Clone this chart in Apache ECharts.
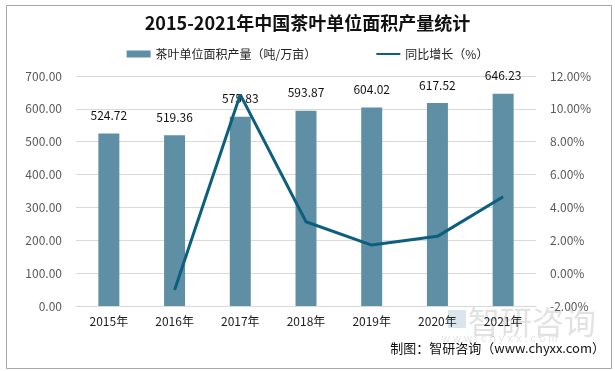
<!DOCTYPE html>
<html><head><meta charset="utf-8">
<script src="https://cdn.jsdelivr.net/npm/echarts@6/dist/echarts.min.js"></script>
<style>html,body{margin:0;padding:0;background:#fff}#c{width:615px;height:371px;}</style>
</head><body><div id="c"></div>
<script>
var categories = ['2015年','2016年','2017年','2018年','2019年','2020年','2021年'];
var yieldValues = [524.72, 519.36, 575.83, 593.87, 604.02, 617.52, 646.23];
var growthValues = [null, -1.02, 10.87, 3.13, 1.71, 2.24, 4.65];
var title = '2015-2021年中国茶叶单位面积产量统计';
var seriesNames = ['茶叶单位面积产量（吨/万亩）', '同比增长（%）'];
var sourceText = '制图：智研咨询（www.chyxx.com）';

var chart = echarts.init(document.getElementById('c'), null, {renderer:'canvas'});
var font = '"Microsoft YaHei","Noto Sans CJK SC",sans-serif';
chart.setOption({
  animation:false,
  textStyle:{fontFamily:font},
  title:{text:title,left:'center',top:9,textStyle:{fontSize:18,fontWeight:'bold',color:'#111',fontFamily:font}},
  legend:{top:43,left:'center',itemGap:60,itemWidth:24,itemHeight:7,textStyle:{fontSize:12,color:'#222'},
    data:[{name:seriesNames[0],icon:'rect'},{name:seriesNames[1],icon:'path://M0,2.5 L24,2.5 L24,4.5 L0,4.5 Z'}]},
  grid:{left:76,right:79,top:76,bottom:65},
  xAxis:{type:'category',data:categories,axisTick:{show:false},
    axisLine:{lineStyle:{color:'#d9d9d9'}},
    axisLabel:{color:'#222',fontSize:12,margin:9}},
  yAxis:[
    {type:'value',min:0,max:700,interval:100,
      axisLabel:{formatter:function(v){return v.toFixed(2);},color:'#595959',fontSize:12,margin:14},
      splitLine:{lineStyle:{color:'#d9d9d9'}},axisLine:{show:false},axisTick:{show:false}},
    {type:'value',min:-2,max:12,interval:2,
      axisLabel:{formatter:function(v){return v.toFixed(2)+'%';},color:'#595959',fontSize:12,margin:14},
      splitLine:{show:false},axisLine:{show:false},axisTick:{show:false}}
  ],
  series:[
    {name:seriesNames[0],type:'bar',data:yieldValues,barWidth:21,itemStyle:{color:'#5f8fa5'},
      label:{show:true,position:'top',distance:12,color:'#111',fontSize:12,formatter:function(p){return p.value.toFixed(2);}}},
    {name:seriesNames[1],type:'line',yAxisIndex:1,data:growthValues,symbol:'none',
      lineStyle:{color:'#0d5f7e',width:3},itemStyle:{color:'#0d5f7e'}}
  ],
  graphic:[
    {type:'rect',left:4,top:3,shape:{width:605,height:363},style:{fill:'none',stroke:'#a6a6a6',lineWidth:1},z:-1},
    {type:'text',right:10,top:342,style:{text:sourceText,fill:'#111',fontSize:13,fontFamily:font},z:10},
    {type:'text',left:468,top:306,style:{text:'智研咨询',fill:'rgba(150,150,150,0.28)',fontSize:32,fontFamily:font},z:0},
    {type:'text',left:442,top:333,style:{text:'w w w . c h y x x . c o m',fill:'rgba(150,150,150,0.25)',fontSize:11},z:0},
    {type:'rect',left:448,top:310,shape:{width:18,height:18},style:{fill:'rgba(110,150,185,0.25)'},z:0}
  ]
});
</script></body></html>
